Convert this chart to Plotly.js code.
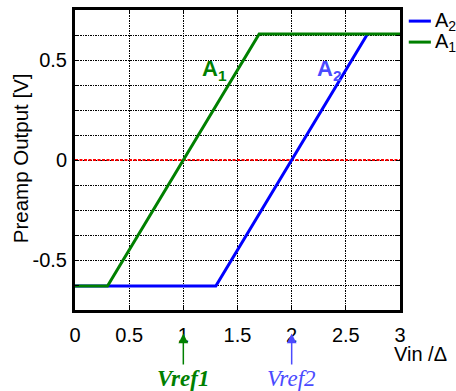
<!DOCTYPE html>
<html>
<head>
<meta charset="utf-8">
<script src="https://cdn.plot.ly/plotly-3.0.1.min.js"></script>
<style>html,body{margin:0;padding:0;background:#fff;}#chart{width:456px;height:391px;}</style>
</head>
<body>
<div id="chart"></div>
<script>
// Data
const a2X = [0, 1.3, 2.7];
const a2Y = [-0.63, -0.63, 0.63];
const a1X = [0, 0.3, 1.7, 3];
const a1Y = [-0.63, -0.63, 0.63, 0.63];
const refX = [0, 3];
const refY = [0, 0];
const xTicks = [0, 0.5, 1, 1.5, 2, 2.5, 3];
const xTickText = ['0', '0.5', '1', '1.5', '2', '2.5', '3'];
const yTicks = [-0.625, -0.5, -0.375, -0.25, -0.125, 0, 0.125, 0.25, 0.375, 0.5, 0.625];
const yTickText = ['', '-0.5', '', '', '', '0', '', '', '', '0.5', ''];
const vrefX = [1, 2];
const vrefLabels = ['Vref1', 'Vref2'];

const green = '#008000';
const blue = '#0000ff';
const lightBlue = '#4b4bff';

const traces = [
  {x: refX, y: refY, mode: 'lines', line: {color: '#ff0000', width: 2, dash: '3px,1.5px'}, showlegend: false, hoverinfo: 'skip'},
  {x: a2X, y: a2Y, mode: 'lines', name: 'A<sub>2</sub>', line: {color: blue, width: 3}, showlegend: false},
  {x: a1X, y: a1Y, mode: 'lines', name: 'A<sub>1</sub>', line: {color: green, width: 3}, showlegend: false}
];

const sans = 'Liberation Sans, Arial, sans-serif';
const serif = 'Liberation Serif, Times New Roman, serif';
const font = {family: sans, size: 20, color: '#000'};

const layout = {
  width: 456, height: 391,
  margin: {l: 74.5, r: 56, t: 10, b: 81},
  paper_bgcolor: '#fff', plot_bgcolor: '#fff',
  font: font,
  showlegend: false,
  xaxis: {
    range: [0, 3], tickvals: xTicks, ticktext: xTickText,
    showgrid: true, gridcolor: '#000', gridwidth: 1, griddash: '1.5px,1px',
    zeroline: false, showline: true, linecolor: '#000', linewidth: 3, mirror: 'ticks',
    ticks: 'inside', ticklen: 4, tickcolor: '#000',
    tickfont: font, ticklabelstandoff: 5, fixedrange: true
  },
  yaxis: {
    range: [-0.75, 0.75], tickvals: yTicks, ticktext: yTickText,
    showgrid: true, gridcolor: '#000', gridwidth: 1, griddash: '1.5px,1px',
    zeroline: false, showline: true, linecolor: '#000', linewidth: 3, mirror: 'ticks',
    ticks: 'inside', ticklen: 4, tickcolor: '#000',
    tickfont: font, ticklabelstandoff: 1, fixedrange: true
  },
  shapes: [
    {type: 'line', xref: 'paper', yref: 'paper', x0: 1.027, x1: 1.095, y0: 0.963, y1: 0.963, line: {color: blue, width: 3}},
    {type: 'line', xref: 'paper', yref: 'paper', x0: 1.027, x1: 1.095, y0: 0.893, y1: 0.893, line: {color: green, width: 3}}
  ],
  annotations: [
    {xref: 'paper', yref: 'paper', x: 1.1, y: 0.963, xanchor: 'left', yanchor: 'middle', text: 'A<sub>2</sub>', showarrow: false, font: font},
    {xref: 'paper', yref: 'paper', x: 1.1, y: 0.893, xanchor: 'left', yanchor: 'middle', text: 'A<sub>1</sub>', showarrow: false, font: font},
    {x: 1.285, y: 0.45, xanchor: 'center', yanchor: 'middle', text: '<b>A<sub>1</sub></b>', showarrow: false, font: {family: sans, size: 22, color: green}},
    {x: 2.34, y: 0.45, xanchor: 'center', yanchor: 'middle', text: '<b>A<sub>2</sub></b>', showarrow: false, font: {family: sans, size: 22, color: lightBlue}},
    {xref: 'paper', yref: 'paper', x: -0.167, y: 0.505, xanchor: 'center', yanchor: 'middle', text: 'Preamp Output [V]', textangle: -90, showarrow: false, font: {family: sans, size: 20.5, color: '#000'}},
    {xref: 'paper', yref: 'paper', x: 1.064, y: -0.148, xanchor: 'center', yanchor: 'middle', text: 'Vin /Δ', showarrow: false, font: font},
    {x: vrefX[0], yref: 'paper', y: -0.078, text: '<b><i>' + vrefLabels[0] + '</i></b>', showarrow: true, arrowhead: 2, arrowsize: 1.3, arrowwidth: 1.5, arrowcolor: green, ax: 0, ay: 45, font: {family: serif, size: 23, color: green}},
    {x: vrefX[1], yref: 'paper', y: -0.078, text: '<i>' + vrefLabels[1] + '</i>', showarrow: true, arrowhead: 2, arrowsize: 1.3, arrowwidth: 1.5, arrowcolor: lightBlue, ax: 0, ay: 45, font: {family: serif, size: 23, color: lightBlue}}
  ]
};

Plotly.newPlot('chart', traces, layout, {staticPlot: true, displayModeBar: false});
</script>
</body>
</html>
